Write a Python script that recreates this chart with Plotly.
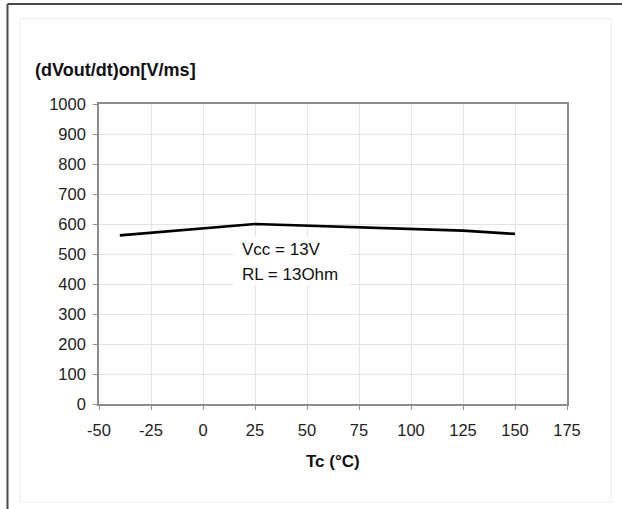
import plotly.graph_objects as go

# Slew rate (turn-on) versus case temperature
temperature_c = [-40, 25, 125, 150]
dvdt_on = [562, 600, 578, 567]

x_ticks = [-50, -25, 0, 25, 50, 75, 100, 125, 150, 175]
x_tick_text = ["-50", "-25", "0", "25", "50", "75", "100", "125", "150", "175"]
y_ticks = [0, 100, 200, 300, 400, 500, 600, 700, 800, 900, 1000]
y_tick_text = ["0", "100", "200", "300", "400", "500", "600", "700", "800", "900", "1000"]

W, H = 622, 509
L, R, T, B = 99, 55, 104, 105
PW, PH = W - L - R, H - T - B
FONT = "Liberation Sans, Arial, sans-serif"


def px(x):
    return (x - L) / PW


def py(y):
    return (H - B - y) / PH


fig = go.Figure()
fig.add_trace(go.Scatter(
    x=temperature_c, y=dvdt_on, mode="lines",
    line=dict(color="black", width=2.6),
    showlegend=False, hoverinfo="skip",
))

axis_common = dict(
    showgrid=True, gridcolor="#e3e3e3", gridwidth=1,
    showline=True, linecolor="#8c8c8c", linewidth=1.6, mirror=True,
    ticks="outside", ticklen=4, tickcolor="#8c8c8c",
    tickfont=dict(family=FONT, size=16.5, color="#222"),
    zeroline=False,
)

fig.update_xaxes(range=[-50, 175], tickvals=x_ticks, ticktext=x_tick_text,
                 ticklabelstandoff=6, **axis_common)
fig.update_yaxes(range=[0, 1000], tickvals=y_ticks, ticktext=y_tick_text,
                 ticklabelstandoff=4, **axis_common)

shapes = [
    # outer frame edges
    dict(type="line", xref="paper", yref="paper", x0=px(7.5), x1=px(W + 2),
         y0=py(4), y1=py(4), line=dict(color="#4a4a4a", width=2)),
    dict(type="line", xref="paper", yref="paper", x0=px(7.5), x1=px(7.5),
         y0=py(4), y1=py(H + 2), line=dict(color="#4a4a4a", width=2)),
    # light inner chart-area box
    dict(type="rect", xref="paper", yref="paper", x0=px(20), x1=px(611),
         y0=py(18.5), y1=py(502), line=dict(color="#ececec", width=1),
         layer="below"),
    # white backing for the conditions label
    dict(type="rect", xref="x", yref="y", x0=14.5, x1=70.5, y0=395, y1=559,
         fillcolor="white", line=dict(width=0), layer="between"),
]

annotations = [
    dict(text="<b>(dVout/dt)on[V/ms]</b>", xref="paper", yref="paper",
         x=px(33), y=py(70), xanchor="left", yanchor="middle", showarrow=False,
         font=dict(family=FONT, size=18, color="#111")),
    dict(text="<b>Tc (°C)</b>", xref="paper", yref="paper",
         x=px(333), y=py(461), xanchor="center", yanchor="middle", showarrow=False,
         font=dict(family=FONT, size=17, color="#111")),
    dict(text="Vcc = 13V", xref="x", yref="y", x=18.0, y=516,
         xanchor="left", yanchor="middle", showarrow=False,
         font=dict(family=FONT, size=17, color="#111")),
    dict(text="RL = 13Ohm", xref="x", yref="y", x=18.0, y=432,
         xanchor="left", yanchor="middle", showarrow=False,
         font=dict(family=FONT, size=17, color="#111")),
]

fig.update_layout(
    width=W, height=H,
    margin=dict(l=L, r=R, t=T, b=B),
    paper_bgcolor="white", plot_bgcolor="white",
    shapes=shapes, annotations=annotations,
)

fig.write_html("out.html")
